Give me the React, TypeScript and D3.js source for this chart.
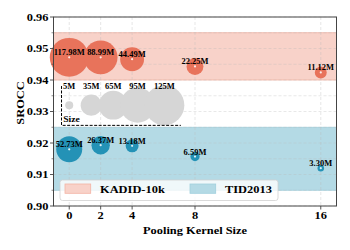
import React from "react";
import * as d3 from "d3";

const kernelSizes = [0, 2, 4, 8, 16];
const kadidSrocc = [0.9472, 0.9472, 0.9466, 0.9443, 0.9424];
const kadidParams = [117.98, 88.99, 44.49, 22.25, 11.12];
const tidSrocc = [0.918, 0.9193, 0.9191, 0.9157, 0.912];
const tidParams = [52.73, 26.37, 13.18, 6.59, 3.3];
const yTicks = [0.9, 0.91, 0.92, 0.93, 0.94, 0.95, 0.96];
const yMinorTicks = [0.905, 0.915, 0.925, 0.935, 0.945, 0.955];
const sizeLegendParams = [5, 35, 65, 95, 125];
const sizeLegendX = [0, 1.4, 2.8, 4.35, 6.05];
const sizeLegendY = 0.932;
const kadidBand = [0.94, 0.955];
const tidBand = [0.905, 0.925];
const seriesNames = ["KADID-10k", "TID2013"];

const W = 350, H = 250;
const L = 53.5, R = 336.5, T = 17, B = 206;
const FONT = "'Liberation Serif', 'Times New Roman', serif";
const SX = 1.13;

const ORANGE = "#e8735b";
const ORANGE_BAND = "#f8d2c9";
const ORANGE_EDGE = "#f2b3a4";
const BLUE = "#2492b6";
const BLUE_BAND = "#b4dae5";
const BLUE_EDGE = "#a0cfdd";
const GRAY = "#d6d6d6";

function Txt({ x, y, size, anchor = "start", rotate = 0, children }: any) {
  return (
    <text
      transform={`translate(${x},${y}) rotate(${rotate}) scale(${SX},1)`}
      fontSize={size}
      fontFamily={FONT}
      fontWeight="bold"
      textAnchor={anchor}
      fill="#000"
    >
      {children}
    </text>
  );
}

export default function App() {
  const x = d3.scaleLinear().domain([-1, 17]).range([L, R]);
  const y = d3.scaleLinear().domain([0.9, 0.96]).range([B, T]);
  const r = d3.scaleSqrt().domain([0, 125]).range([0, 20]);
  const fmt = (v: number) => v.toFixed(2) + "M";

  const series = [
    { s: kadidSrocc, p: kadidParams, c: ORANGE },
    { s: tidSrocc, p: tidParams, c: BLUE },
  ];

  return (
    <svg width={W} height={H} style={{ position: "absolute", left: 0, top: 0, background: "#fff" }}>
      {/* bands */}
      <rect x={L} width={R - L} y={y(kadidBand[1])} height={y(kadidBand[0]) - y(kadidBand[1])}
        fill={ORANGE_BAND} stroke={ORANGE_EDGE} strokeWidth={0.8} />
      <rect x={L} width={R - L} y={y(tidBand[1])} height={y(tidBand[0]) - y(tidBand[1])}
        fill={BLUE_BAND} stroke={BLUE_EDGE} strokeWidth={0.8} />

      {/* grid */}
      {[...yTicks, ...yMinorTicks].map((t) => (
        <line key={"gy" + t} x1={L} x2={R} y1={y(t)} y2={y(t)} stroke="#b8b8b8"
          strokeOpacity={0.55} strokeWidth={0.6} strokeDasharray="3,2" />
      ))}
      {kernelSizes.map((t) => (
        <line key={"gx" + t} x1={x(t)} x2={x(t)} y1={T} y2={B} stroke="#b8b8b8"
          strokeOpacity={0.6} strokeWidth={0.6} strokeDasharray="3,2" />
      ))}

      {/* size legend */}
      {sizeLegendParams.map((p, i) => (
        <circle key={"sc" + i} cx={x(sizeLegendX[i])} cy={y(sizeLegendY)} r={r(p)} fill={GRAY} />
      ))}
      {sizeLegendParams.map((p, i) => (
        <Txt key={"sl" + i} x={x(sizeLegendX[i])} y={y(sizeLegendY) - 16.5} size={7.5} anchor="middle">
          {p + "M"}
        </Txt>
      ))}
      <path
        d={`M${x(-0.49)},${y(0.9381)} V${y(0.9256)} H${x(7.1)}`}
        fill="none" stroke="#000" strokeWidth={1} strokeDasharray="3,1.5" />
      <Txt x={x(-0.38)} y={y(0.9268)} size={8.5}>Size</Txt>

      {/* points */}
      {series.map((se, si) => (
        <g key={"s" + si}>
          {kernelSizes.map((k, i) => (
            <circle key={"c" + i} cx={x(k)} cy={y(se.s[i])} r={r(se.p[i])} fill={se.c} />
          ))}
          {kernelSizes.map((k, i) => (
            <circle key={"d" + i} cx={x(k)} cy={y(se.s[i])} r={1.1} fill="#fff" fillOpacity={0.85} />
          ))}
          {kernelSizes.map((k, i) => (
            <Txt key={"t" + i} x={x(k)} y={y(se.s[i]) - 2} size={7.5} anchor="middle">
              {fmt(se.p[i])}
            </Txt>
          ))}
        </g>
      ))}

      {/* spines */}
      <rect x={L} y={T} width={R - L} height={B - T} fill="none" stroke="#444" strokeWidth={1} />

      {/* y ticks */}
      {yTicks.map((t) => (
        <g key={"yt" + t}>
          <line x1={L - 3.5} x2={L} y1={y(t)} y2={y(t)} stroke="#444" strokeWidth={0.9} />
          <Txt x={L - 5} y={y(t) + 3.7} size={11} anchor="end">{t.toFixed(2)}</Txt>
        </g>
      ))}
      {yMinorTicks.map((t) => (
        <line key={"ym" + t} x1={L - 2} x2={L} y1={y(t)} y2={y(t)} stroke="#444" strokeWidth={0.6} />
      ))}
      {/* x ticks */}
      {kernelSizes.map((t) => (
        <g key={"xt" + t}>
          <line x1={x(t)} x2={x(t)} y1={B} y2={B + 3.5} stroke="#444" strokeWidth={0.9} />
          <Txt x={x(t)} y={219.3} size={11} anchor="middle">{String(t)}</Txt>
        </g>
      ))}

      {/* axis labels */}
      <Txt x={(L + R) / 2} y={233.5} size={11} anchor="middle">Pooling Kernel Size</Txt>
      <Txt x={24} y={103} size={11} anchor="middle" rotate={-90}>SROCC</Txt>

      {/* legend */}
      <rect x={60} y={180} width={218} height={20.5} rx={2.5} fill="#fff" fillOpacity={0.8}
        stroke="#d0d0d0" strokeWidth={0.8} />
      <rect x={65} y={184} width={25.7} height={9.3} fill={ORANGE_BAND} stroke={ORANGE_EDGE} strokeWidth={0.8} />
      <Txt x={100} y={192.8} size={11}>{seriesNames[0]}</Txt>
      <rect x={190} y={184} width={25.7} height={9.3} fill={BLUE_BAND} stroke={BLUE_EDGE} strokeWidth={0.8} />
      <Txt x={225} y={192.8} size={11}>{seriesNames[1]}</Txt>
    </svg>
  );
}
